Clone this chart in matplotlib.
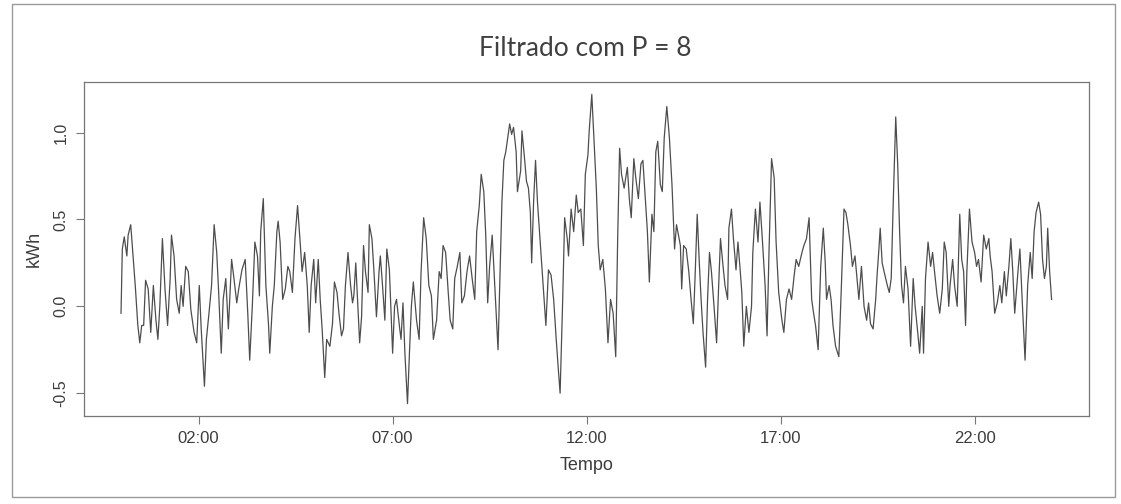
import matplotlib
matplotlib.use("Agg")
import matplotlib.pyplot as plt
from matplotlib.patches import Rectangle

# minutes since 00:00
minutes = [0, 2, 5, 9, 11, 15, 19, 22, 26, 29, 32, 35, 38, 42, 46, 50, 54, 57, 60, 64,
           68, 72, 76, 78, 82, 86, 90, 93, 96, 100, 104, 108, 113, 117, 121, 124, 129, 132, 136, 140,
           144, 148, 151, 155, 158, 162, 166, 171, 174, 179, 182, 187, 192, 196, 199, 203, 207, 211, 214, 216,
           220, 224, 228, 230, 234, 237, 241, 243, 246, 250, 254, 258, 261, 265, 269, 273, 277, 280, 284,
           288, 291, 294, 298, 301, 305, 308, 311, 315, 318, 323, 327, 330, 334, 337, 341, 344, 347, 351,
           355, 358, 360, 363, 366, 369, 372, 375, 378, 382, 384, 388, 391, 395, 399, 401, 404, 408, 411,
           415, 420, 423, 426, 431, 433, 436, 439, 443, 446, 449, 452, 457, 461, 464, 468, 472, 476, 480,
           483, 488, 492, 495, 498, 502, 506, 509, 513, 516, 520, 524, 527, 531, 535, 539, 543, 547, 550,
           554, 557, 561, 564, 567, 570, 574,
           578, 583, 585, 589, 592, 595, 601, 604, 607, 611, 613, 618, 620, 624, 627, 630, 633, 635, 638,
           641, 644, 649, 654, 657, 661, 665, 669, 673, 676, 679, 683, 686, 690, 692, 696, 700, 704, 707,
           711, 715, 718, 722, 724, 728, 732, 735, 738, 741, 745, 749, 753, 757, 761, 765, 768, 771, 774,
           778, 783, 786, 789, 793, 796, 800, 804, 807, 810, 814, 817, 821, 824, 827, 830, 834, 837, 840,
           844, 848, 852, 856, 859, 862, 865,
           867, 870, 874, 878, 882, 885, 888, 891, 894, 897, 900, 904, 907, 910, 913, 917, 921, 924, 927,
           931, 934, 938, 940, 944, 947, 951, 954, 957, 960, 963, 967, 971, 975, 977, 981, 985, 988, 992,
           996, 999, 1002, 1006, 1010, 1013, 1017, 1022, 1025, 1029, 1033, 1037, 1041, 1044, 1048, 1053,
           1056, 1060, 1064, 1068, 1071, 1074, 1078, 1082, 1086, 1089, 1091, 1095, 1098, 1101, 1105, 1110,
           1114, 1118, 1121, 1124, 1128, 1131, 1135, 1139, 1141, 1145, 1149, 1153, 1156,
           1159, 1163, 1167, 1169, 1172, 1174, 1177, 1180, 1185, 1188, 1191, 1194, 1198, 1201, 1204, 1207,
           1210, 1213, 1217, 1221, 1225, 1228, 1232, 1235, 1239, 1241, 1244, 1248, 1252, 1255, 1258, 1262,
           1266, 1270, 1273, 1276, 1280, 1282, 1286, 1289, 1293, 1297, 1300, 1303, 1306, 1308, 1312, 1316,
           1320, 1323, 1326, 1330, 1334, 1338, 1342, 1344, 1347, 1351, 1355, 1359, 1362, 1366, 1369, 1373,
           1376, 1379, 1382, 1387, 1390, 1394, 1398, 1402, 1406, 1409, 1412, 1415, 1419, 1422, 1425, 1428,
           1431, 1433, 1436, 1439]

kwh = [-0.04, 0.33, 0.40, 0.29, 0.41, 0.47, 0.27, 0.12, -0.11, -0.21, -0.11, -0.11, 0.15, 0.10, -0.15, 0.12, -0.08, -0.19, 0.00, 0.39,
       0.10, -0.11, 0.16, 0.41, 0.29, 0.04, -0.04, 0.12, 0.00, 0.23, 0.20, -0.02, -0.15, -0.21, 0.12, -0.13, -0.46, -0.19, -0.04, 0.12,
       0.47, 0.31, 0.08, -0.27, 0.04, 0.16, -0.13, 0.27, 0.18, 0.02, 0.10, 0.21, 0.27, -0.04, -0.31, 0.00, 0.37, 0.29, 0.06, 0.43,
       0.62, 0.12, -0.10, -0.27, 0.00, 0.12, 0.43, 0.49, 0.37, 0.04, 0.10, 0.23, 0.20, 0.08, 0.39, 0.58, 0.37, 0.20, 0.31,
       0.12, -0.15, 0.12, 0.27, 0.02, 0.27, 0.04, -0.13, -0.41, -0.19, -0.23, -0.10, 0.14, 0.08, -0.04, -0.17, -0.13, 0.12, 0.31,
       0.12, 0.02, 0.06, 0.25, 0.02, -0.21, -0.06, 0.35, 0.20, 0.08, 0.47, 0.39, 0.21, -0.06, 0.20, 0.29, 0.14, -0.08, 0.33,
       0.21, -0.27, 0.00, 0.04, -0.13, -0.19, 0.02, -0.27, -0.56, -0.27, 0.00, 0.14, -0.08, -0.19, 0.20, 0.51, 0.39, 0.12, 0.06,
       -0.19, -0.08, 0.20, 0.16, 0.35, 0.31, 0.08, -0.08, -0.13, 0.16, 0.23, 0.31, 0.02, 0.06, 0.20, 0.29, 0.16, 0.04, 0.43,
       0.58, 0.76, 0.66, 0.41, 0.02, 0.23, 0.41,
       0.12, -0.25, 0.04, 0.60, 0.84, 0.89, 1.05, 0.99, 1.03, 0.89, 0.66, 0.78, 1.01, 0.85, 0.72, 0.68, 0.54, 0.25, 0.60,
       0.84, 0.60, 0.33, 0.06, -0.11, 0.21, 0.18, 0.04, -0.19, -0.35, -0.50, 0.04, 0.51, 0.39, 0.29, 0.56, 0.43, 0.64, 0.54,
       0.56, 0.35, 0.76, 0.87, 1.01, 1.22, 0.91, 0.68, 0.35, 0.21, 0.27, 0.10, -0.21, 0.04, -0.04, -0.29, 0.39, 0.91, 0.76,
       0.68, 0.80, 0.62, 0.51, 0.85, 0.74, 0.62, 0.82, 0.84, 0.66, 0.43, 0.14, 0.53, 0.43, 0.89, 0.95, 0.70, 0.66, 0.97,
       1.15, 0.97, 0.70, 0.33, 0.47, 0.41, 0.35,
       0.10, 0.35, 0.33, 0.20, 0.02, -0.10, 0.20, 0.53, 0.27, 0.04, -0.15, -0.35, 0.04, 0.31, 0.20, 0.00, -0.21, 0.10, 0.39,
       0.23, 0.12, 0.04, 0.45, 0.56, 0.39, 0.21, 0.37, 0.23, 0.08, -0.23, 0.00, -0.15, 0.00, 0.31, 0.56, 0.37, 0.60, 0.37,
       0.12, -0.17, 0.31, 0.85, 0.74, 0.37, 0.08, -0.08, -0.15, 0.04, 0.10, 0.04, 0.18, 0.27, 0.23, 0.31,
       0.35, 0.39, 0.51, 0.04, -0.04, -0.11, -0.25, 0.23, 0.45, 0.25, 0.04, 0.12, 0.04, -0.11, -0.23, -0.29,
       0.12, 0.56, 0.54, 0.47, 0.35, 0.23, 0.29, 0.12, 0.04, 0.23, 0.00, -0.08, 0.02,
       -0.10, -0.13, 0.04, 0.17, 0.33, 0.45, 0.25, 0.20, 0.12, 0.08, 0.16, 0.58, 1.09, 0.82, 0.43, 0.12,
       0.02, 0.23, 0.10, -0.23, 0.16, 0.00, -0.15, -0.27, 0.00, -0.27, 0.16, 0.37, 0.23, 0.31, 0.20, 0.06,
       -0.04, 0.10, 0.37, 0.31, 0.00, 0.12, 0.27, 0.12, 0.00, 0.53, 0.27, 0.20, -0.11, 0.20, 0.56, 0.37,
       0.31, 0.23, 0.27, 0.14, 0.41, 0.33, 0.39, 0.29, 0.20, -0.04, 0.02, 0.12, 0.02, 0.20, 0.06, 0.23,
       0.39, 0.20, -0.04, 0.20, 0.33, 0.00, -0.31, 0.12, 0.31, 0.16, 0.43, 0.54, 0.60, 0.53, 0.27, 0.16,
       0.23, 0.45, 0.20, 0.04]

tick_minutes = [120, 420, 720, 1020, 1320]
tick_labels = ["02:00", "07:00", "12:00", "17:00", "22:00"]
y_ticks = [-0.5, 0.0, 0.5, 1.0]
y_tick_labels = ["-0.5", "0.0", "0.5", "1.0"]

title = "Filtrado com P = 8"
xlabel = "Tempo"
ylabel = "kWh"

text_col = "#3c3c3c"
line_col = "#4d4d4d"
frame_col = "#777777"

fig = plt.figure(figsize=(11.21, 5.04), dpi=100)
fig.patch.set_facecolor("white")

# outer frame of the picture
fig.add_artist(Rectangle((12 / 1121, 7 / 504), 1103 / 1121, 493 / 504,
                         transform=fig.transFigure, fill=False,
                         edgecolor="#999999", linewidth=1.0))

ax = fig.add_axes([83.8 / 1121, 88 / 504, 1005 / 1121, 334 / 504])
ax.plot(minutes, kwh, color=line_col, linewidth=0.9)

# R-style 4% padding
xmin, xmax = min(minutes), max(minutes)
ymin, ymax = min(kwh), max(kwh)
px = 0.04 * (xmax - xmin)
py = 0.04 * (ymax - ymin)
ax.set_xlim(xmin - px, xmax + px)
ax.set_ylim(ymin - py, ymax + py)

ax.set_xticks(tick_minutes)
ax.set_xticklabels(tick_labels, fontsize=12, color=text_col, family="Liberation Sans")
ax.set_yticks(y_ticks)
ax.set_yticklabels(y_tick_labels, fontsize=11.5, color=text_col, family="Liberation Sans",
                   rotation=90, va="center")
ax.tick_params(axis="both", direction="out", length=6, width=0.8, color=frame_col, pad=5)
for s in ax.spines.values():
    s.set_color(frame_col)
    s.set_linewidth(0.9)

ax.set_xlabel(xlabel, fontsize=13, color=text_col, family="Liberation Sans", labelpad=8)
ax.set_ylabel(ylabel, fontsize=13, color=text_col, family="Liberation Sans", labelpad=8)

fig.text(0.522, 1 - 49 / 504, title, ha="center", va="center", fontsize=19,
         color="#404040", family="Lato")

fig.savefig("out.png", dpi=100, facecolor="white")
